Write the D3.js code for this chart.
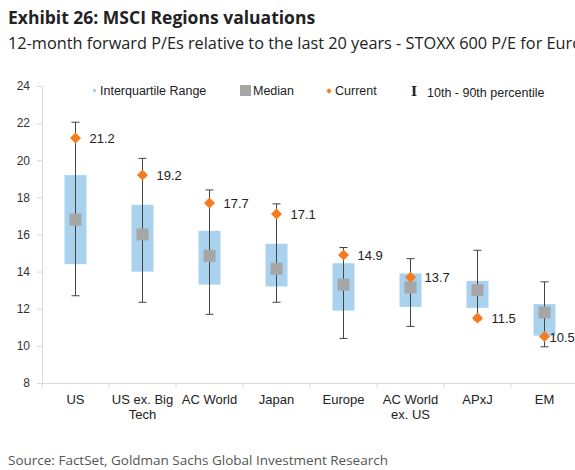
<!DOCTYPE html><html><head><meta charset="utf-8"><script src="https://cdn.jsdelivr.net/npm/d3@7"></script>
<style>body{margin:0;background:#fff}svg{display:block}</style></head><body><svg id="c" width="575" height="470"></svg>
<script>
const categories=["US","US ex. Big|Tech","AC World","Japan","Europe","AC World|ex. US","APxJ","EM"];
const p10=[12.7,12.35,11.7,12.35,10.4,11.05,11.4,9.95];
const p90=[22.05,20.1,18.4,17.65,15.3,14.7,15.15,13.45];
const q1=[14.4,14.0,13.3,13.2,11.9,12.1,12.05,10.55];
const q3=[19.2,17.6,16.2,15.5,14.45,13.9,13.5,12.25];
const median=[16.8,16.0,14.85,14.15,13.3,13.15,13.0,11.8];
const current=[21.2,19.2,17.7,17.1,14.9,13.7,11.5,10.5];
const yTicks=[8,10,12,14,16,18,20,22,24];
const svg=d3.select("#c");const F="Liberation Sans, Arial, sans-serif";
const x=d3.scaleBand().domain(categories).range([42,578]);
const y=d3.scaleLinear().domain([8,24]).range([383,86]);
svg.append("text").attr("x",8).attr("y",24).attr("font-family","Open Sans, sans-serif").attr("font-weight","bold").attr("font-size",17.5).attr("fill","#222").text("Exhibit 26: MSCI Regions valuations");
svg.append("text").attr("x",8).attr("y",49).attr("font-family","Open Sans, sans-serif").attr("font-size",16.3).attr("fill","#222").text("12-month forward P/Es relative to the last 20 years - STOXX 600 P/E for Europe");
svg.append("text").attr("x",8).attr("y",465).attr("font-family","Open Sans, sans-serif").attr("font-size",13.5).attr("fill","#555").text("Source: FactSet, Goldman Sachs Global Investment Research");
const ya=svg.append("g").attr("transform","translate(42,0)").call(d3.axisLeft(y).tickValues(yTicks).tickSize(5).tickSizeOuter(0));
ya.selectAll("text").attr("font-family",F).attr("font-size",12).attr("fill","#333").attr("x",-12);
ya.selectAll("line,path").attr("stroke","#d9d9d9");
const xa=svg.append("g").attr("transform","translate(0,383)").call(d3.axisBottom(x).tickSize(5).tickSizeOuter(0).tickFormat(""));
xa.selectAll("line,path").attr("stroke","#d9d9d9");
xa.selectAll(".tick line").attr("transform",`translate(${-x.bandwidth()/2},0)`);
categories.forEach((c,i)=>{const t=svg.append("text").attr("font-family",F).attr("font-size",13).attr("fill","#222").attr("text-anchor","middle");
 c.split("|").forEach((s,k)=>t.append("tspan").attr("x",x(c)+x.bandwidth()/2).attr("y",404+k*15).text(s));});
const g=svg.append("g");
const dia=d3.symbol(d3.symbolSquare,60)();
categories.forEach((c,i)=>{const cx=x(c)+x.bandwidth()/2;
 g.append("rect").attr("x",cx-11).attr("width",22).attr("y",y(q3[i])).attr("height",y(q1[i])-y(q3[i])).attr("fill","#a9d2ef");
 g.append("line").attr("x1",cx).attr("x2",cx).attr("y1",y(p90[i])).attr("y2",y(p10[i])).attr("stroke","#444");
 [p10[i],p90[i]].forEach(v=>g.append("line").attr("x1",cx-4).attr("x2",cx+4).attr("y1",y(v)).attr("y2",y(v)).attr("stroke","#444"));
 g.append("rect").attr("x",cx-6).attr("y",y(median[i])-6).attr("width",12).attr("height",12).attr("fill","#a6a6a6");
 g.append("path").attr("d",dia).attr("transform",`translate(${cx},${y(current[i])}) rotate(45)`).attr("fill","#f47b20");
 g.append("text").attr("x",i==7?cx+5:cx+14).attr("y",y(current[i])+5).attr("font-family",F).attr("font-size",13).attr("fill","#222").text(current[i].toFixed(1));
});
const L=svg.append("g").attr("font-family",F).attr("font-size",12.5).attr("fill","#222");
L.append("rect").attr("x",93).attr("y",89).attr("width",3).attr("height",3).attr("fill","#a9d2ef");
L.append("text").attr("x",100).attr("y",95).text("Interquartile Range");
L.append("rect").attr("x",240).attr("y",85).attr("width",11).attr("height",11).attr("fill","#a6a6a6");
L.append("text").attr("x",253).attr("y",95).text("Median");
L.append("path").attr("d",d3.symbol(d3.symbolSquare,14)()).attr("transform","translate(329,91) rotate(45)").attr("fill","#f47b20");
L.append("text").attr("x",335).attr("y",95).text("Current");
L.append("text").attr("x",411).attr("y",96).attr("font-family","DejaVu Serif, serif").attr("font-weight","bold").attr("font-size",13).text("I");
L.append("text").attr("x",427).attr("y",97).text("10th - 90th percentile");
</script></body></html>
